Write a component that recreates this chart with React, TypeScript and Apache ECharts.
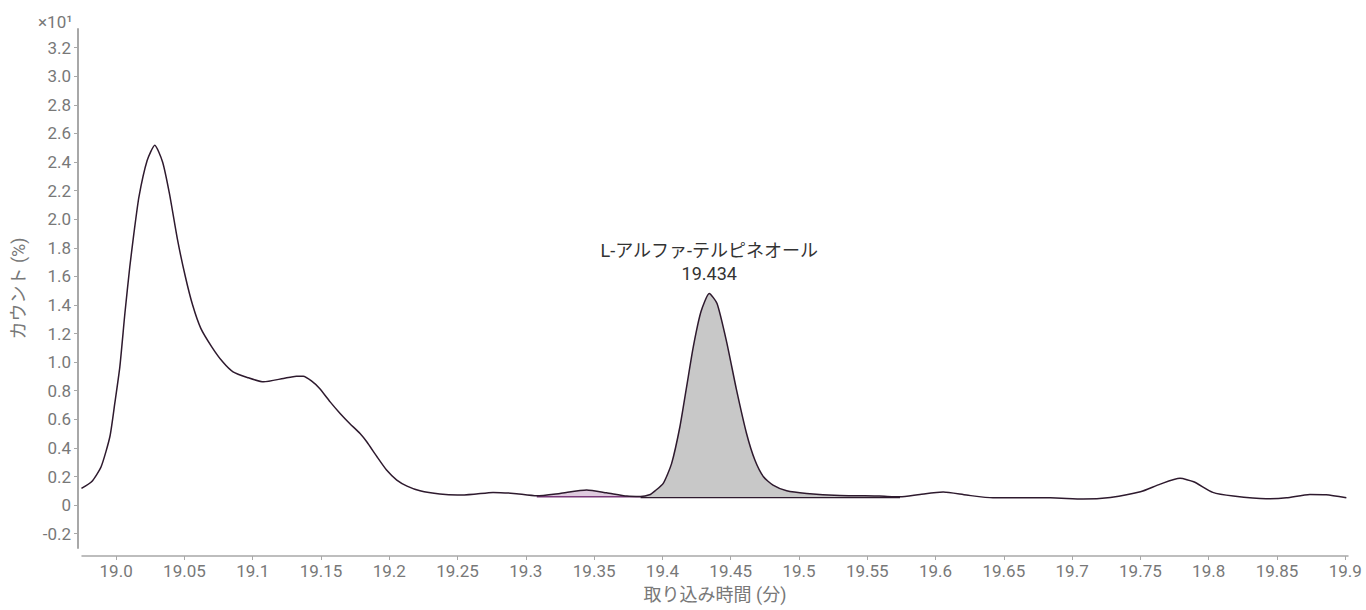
import React, { useEffect, useRef } from "react";
import * as echarts from "echarts";

const times = [
  18.9746, 18.982, 18.989, 18.9954, 18.999, 19.0027, 19.0064, 19.01, 19.013, 19.0167,
  19.0227, 19.0283, 19.034, 19.039, 19.045, 19.0507, 19.056, 19.062, 19.07, 19.078,
  19.0856, 19.096, 19.108, 19.1225, 19.132, 19.137, 19.143, 19.149, 19.1567, 19.164,
  19.171, 19.1786, 19.1835, 19.191, 19.198, 19.2055, 19.213, 19.2225, 19.237, 19.25,
  19.262, 19.276, 19.291, 19.308, 19.325, 19.3445, 19.359, 19.374, 19.384, 19.3905,
  19.3946, 19.4006, 19.4067, 19.4128, 19.4177, 19.4226, 19.4282, 19.4343, 19.44,
  19.447, 19.4543, 19.4616, 19.4677, 19.474, 19.481, 19.491, 19.5056, 19.53, 19.559,
  19.574, 19.5886, 19.6056, 19.6227, 19.642, 19.684, 19.708, 19.728, 19.75, 19.7645,
  19.779, 19.789, 19.803, 19.818, 19.842, 19.857, 19.874, 19.886, 19.9008,
];
const counts = [
  0.117, 0.163, 0.268, 0.478, 0.711, 0.967, 1.34, 1.667, 1.9, 2.156,
  2.41, 2.517, 2.4, 2.18, 1.853, 1.597, 1.399, 1.236, 1.107, 1.002,
  0.932, 0.893, 0.862, 0.886, 0.902, 0.902, 0.869, 0.816, 0.722, 0.641,
  0.571, 0.501, 0.443, 0.338, 0.245, 0.175, 0.133, 0.1, 0.077, 0.07,
  0.076, 0.089, 0.082, 0.065, 0.082, 0.105, 0.086, 0.063, 0.06, 0.072,
  0.1, 0.152, 0.29, 0.548, 0.827, 1.107, 1.352, 1.48, 1.41,
  1.142, 0.804, 0.501, 0.315, 0.198, 0.14, 0.1, 0.082, 0.068, 0.063,
  0.058, 0.075, 0.091, 0.07, 0.051, 0.051, 0.042, 0.054, 0.093, 0.147,
  0.187, 0.163, 0.089, 0.063, 0.044, 0.051, 0.075, 0.072, 0.051,
];

const xTicks = [
  19.0, 19.05, 19.1, 19.15, 19.2, 19.25, 19.3, 19.35, 19.4, 19.45,
  19.5, 19.55, 19.6, 19.65, 19.7, 19.75, 19.8, 19.85, 19.9,
];
const yTicks = [
  -0.2, 0, 0.2, 0.4, 0.6, 0.8, 1.0, 1.2, 1.4, 1.6, 1.8, 2.0, 2.2, 2.4, 2.6,
  2.8, 3.0, 3.2,
];

const peakName = "L-アルファ-テルピネオール";
const pinkRange = [19.308, 19.384];
const pinkBase = 0.058;
const grayRange = [19.384, 19.574];
const grayBase = 0.053;

const xAxisName = "取り込み時間 (分)";
const yAxisName = "カウント (%)";
const scaleLabel = "×10¹";

const FONT = 'Roboto, "Noto Sans CJK JP", sans-serif';
const LINE = "#2e1a2e";
const AXIS = "#a8a8a8";
const LABEL = "#787878";

export default function App() {
  const ref = useRef<HTMLDivElement>(null);

  useEffect(() => {
    if (!ref.current) return;
    const chart = echarts.init(ref.current, undefined, { renderer: "svg" });

    const all = times.map((t, i) => [t, counts[i]]);
    const within = (r: number[]) => all.filter((p) => p[0] >= r[0] - 1e-9 && p[0] <= r[1] + 1e-9);
    const pinkData = within(pinkRange);
    const grayData = within(grayRange);

    let peakIdx = 0;
    grayData.forEach((p, i) => {
      if (p[1] > grayData[peakIdx][1]) peakIdx = i;
    });
    const peak = grayData[peakIdx];

    const smooth = 0.2;

    chart.setOption({
      animation: false,
      textStyle: { fontFamily: FONT },
      grid: { left: 82, right: 18, top: 29, bottom: 62, containLabel: false },
      xAxis: {
        type: "value",
        min: 18.975,
        max: 19.902,
        offset: 8,
        name: xAxisName,
        nameLocation: "middle",
        nameGap: 29,
        nameTextStyle: { color: LABEL, fontSize: 18, fontFamily: FONT },
        axisLine: { show: true, onZero: false, lineStyle: { color: AXIS, width: 1.5 } },
        axisTick: { show: true, length: 4, customValues: xTicks, lineStyle: { color: AXIS, width: 1 } },
        axisLabel: {
          customValues: xTicks,
          color: LABEL,
          fontSize: 17,
          fontFamily: FONT,
          margin: 6,
          formatter: (v: number) => {
            const s = v.toFixed(2);
            return s.endsWith("0") ? s.slice(0, -1) : s;
          },
        },
        splitLine: { show: false },
      },
      yAxis: {
        type: "value",
        min: -0.3,
        max: 3.33,
        offset: 4,
        name: yAxisName,
        nameLocation: "middle",
        nameGap: 51,
        nameTextStyle: { color: LABEL, fontSize: 18, fontFamily: FONT },
        axisLine: { show: true, onZero: false, lineStyle: { color: AXIS, width: 2 } },
        axisTick: { show: true, length: 4, customValues: yTicks, lineStyle: { color: AXIS, width: 1 } },
        axisLabel: {
          customValues: yTicks,
          color: LABEL,
          fontSize: 17,
          fontFamily: FONT,
          margin: 7,
          formatter: (v: number) => (Math.abs(v) < 1e-9 ? "0" : v.toFixed(1)),
        },
        splitLine: { show: false },
      },
      graphic: [
        {
          type: "text",
          left: 38,
          top: 13,
          style: { text: scaleLabel, fill: LABEL, font: `17px ${FONT}` },
        },
      ],
      series: [
        {
          type: "line",
          data: pinkData,
          smooth,
          symbol: "none",
          lineStyle: { width: 0 },
          areaStyle: { color: "#dfcadf", opacity: 1, origin: pinkBase },
          z: 1,
          silent: true,
        },
        {
          type: "line",
          data: [
            [pinkRange[0], pinkBase],
            [pinkRange[1], pinkBase],
          ],
          symbol: "none",
          lineStyle: { width: 1.5, color: "#7a3a7a" },
          z: 2,
          silent: true,
        },
        {
          type: "line",
          data: grayData,
          smooth,
          symbol: "none",
          lineStyle: { width: 0 },
          areaStyle: { color: "#c8c8c8", opacity: 1, origin: grayBase },
          z: 1,
          silent: true,
          markPoint: {
            symbol: "circle",
            symbolSize: 1,
            itemStyle: { color: "rgba(0,0,0,0)" },
            label: {
              show: true,
              position: "top",
              distance: 8,
              color: "#333",
              fontSize: 18,
              lineHeight: 23,
              fontFamily: FONT,
              formatter: () => `${peakName}\n${peak[0].toFixed(3)}`,
            },
            data: [{ coord: peak }],
          },
        },
        {
          type: "line",
          data: [
            [grayRange[0], grayBase],
            [grayRange[1], grayBase],
          ],
          symbol: "none",
          lineStyle: { width: 1.2, color: LINE },
          z: 2,
          silent: true,
        },
        {
          type: "line",
          data: all,
          smooth,
          symbol: "none",
          lineStyle: { width: 1.5, color: LINE },
          z: 3,
          silent: true,
        },
      ],
    });

    return () => chart.dispose();
  }, []);

  return (
    <div
      ref={ref}
      style={{ position: "absolute", left: 0, top: 0, width: 1366, height: 610, background: "#fff" }}
    />
  );
}
